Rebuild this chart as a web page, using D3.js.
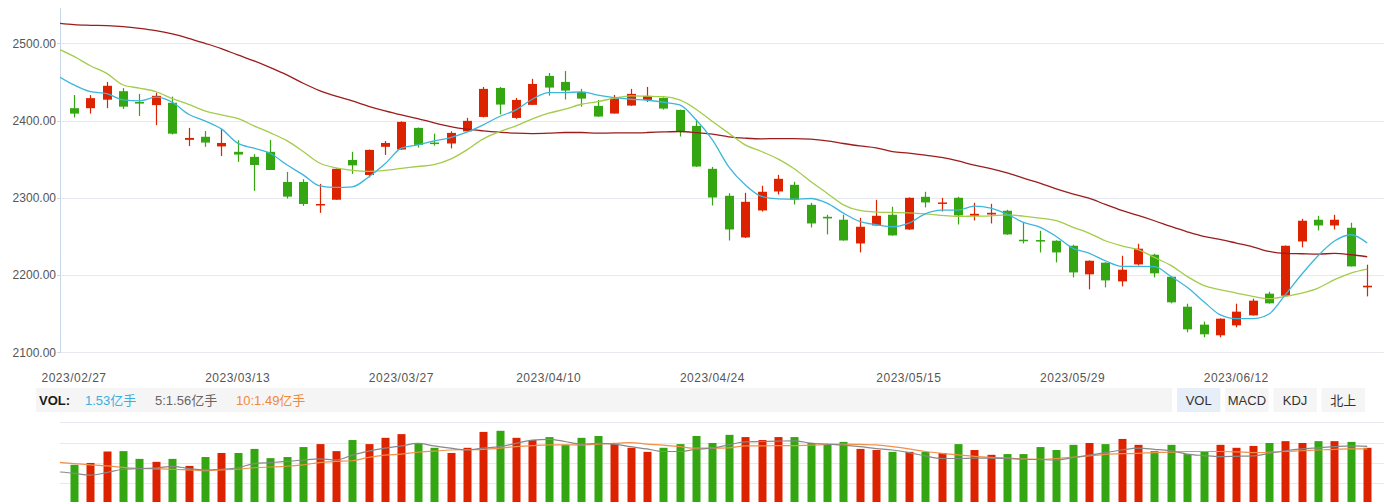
<!DOCTYPE html>
<html><head><meta charset="utf-8">
<script src="https://cdn.jsdelivr.net/npm/d3@7"></script>
<style>html,body{margin:0;padding:0;background:#fff;overflow:hidden}</style>
</head><body><svg id="c" width="1384" height="502"></svg>
<script>
const dates = ["2023/02/27","2023/02/28","2023/03/01","2023/03/02","2023/03/03",
"2023/03/06","2023/03/07","2023/03/08","2023/03/09","2023/03/10",
"2023/03/13","2023/03/14","2023/03/15","2023/03/16","2023/03/17",
"2023/03/20","2023/03/21","2023/03/22","2023/03/23","2023/03/24",
"2023/03/27","2023/03/28","2023/03/29","2023/03/30","2023/03/31",
"2023/04/03","2023/04/04","2023/04/06","2023/04/07",
"2023/04/10","2023/04/11","2023/04/12","2023/04/13","2023/04/14",
"2023/04/17","2023/04/18","2023/04/19","2023/04/20","2023/04/21",
"2023/04/24","2023/04/25","2023/04/26","2023/04/27","2023/04/28",
"2023/05/04","2023/05/05",
"2023/05/08","2023/05/09","2023/05/10","2023/05/11","2023/05/12",
"2023/05/15","2023/05/16","2023/05/17","2023/05/18","2023/05/19",
"2023/05/22","2023/05/23","2023/05/24","2023/05/25","2023/05/26",
"2023/05/29","2023/05/30","2023/05/31","2023/06/01","2023/06/02",
"2023/06/05","2023/06/06","2023/06/07","2023/06/08","2023/06/09",
"2023/06/12","2023/06/13","2023/06/14","2023/06/15","2023/06/16",
"2023/06/19","2023/06/20","2023/06/21","2023/06/26"];

const open = [2416,2416,2427,2438,2424,2420,2423,2375,2379,2366.5,
2359.5,2353,2359.5,2320.5,2320.5,2291.5,2297.5,2349,2329.5,2366,
2362.5,2390.5,2371.5,2370.3,2386,2404.7,2442.2,2403.4,2420.3,2457.8,
2450,2437.1,2419,2409.1,2419.4,2426.7,2429.3,2413.8,2393.1,2337.5,
2302.6,2248.7,2283.6,2308.2,2316.8,2290.9,2275.4,2271.6,2240.9,2264.2,
2278,2259,2301.3,2292.7,2300,2276.7,2278.4,2283.2,2245.7,2245.3,
2244.4,2237.9,2200.9,2216,2191.8,2213.8,2226.3,2197.8,2159,2135.8,
2122,2134.9,2147.8,2175.9,2173.3,2243.5,2271.6,2264.2,2261.2,2184.1];
const close = [2409,2429,2445,2418,2422,2432,2383,2377.5,2371.5,2371,
2356,2342.5,2336,2301.5,2292,2292,2337.5,2342,2362,2371,
2398.3,2368.5,2370.3,2384,2399.6,2441,2420.7,2426.7,2447.4,2442.7,
2438.8,2428.4,2405.2,2428.4,2434.5,2431.9,2415.5,2385.8,2340.5,2300.4,
2259,2294.8,2307.8,2324.6,2297.4,2266.8,2273.3,2244.8,2262.5,2276.7,
2251.3,2300,2294,2294,2277.2,2279.3,2280.6,2252.6,2244.4,2243.5,
2229.3,2203.4,2218.5,2193.1,2206.9,2234.1,2202.2,2164.7,2129.7,2123.3,
2143.5,2152.6,2166.8,2163.4,2237.9,2270.3,2264.2,2271.6,2211.2,2186.2];
const high = [2433,2433,2450,2442,2434.5,2436,2431,2390.5,2386.5,2389,
2374.5,2356.5,2375,2333.5,2324,2318,2338,2359.5,2362.5,2373.5,
2399,2391,2383,2386,2403.5,2443.5,2443.5,2429.3,2454,2461.6,
2464.2,2441,2426.7,2433.2,2441,2443.5,2430,2414,2401,2340,
2306,2306.5,2315.5,2329.7,2320.7,2293.5,2278,2278,2274.1,2297.4,
2288.4,2300.5,2307.8,2300,2301.3,2293.5,2292.2,2284.5,2268.1,2257.3,
2245,2239.2,2219,2216.5,2225,2240.5,2227.6,2198,2162.9,2139.7,
2144,2162.9,2169.4,2178.4,2238.2,2272.8,2276.7,2278,2267.7,2213.4];
const low = [2404,2409,2416,2415,2406,2394,2382,2367,2366,2354,
2346.5,2309,2336,2299,2289.5,2280.5,2297.5,2331,2326.5,2355.5,
2362,2365,2367.5,2364,2385.5,2404,2408,2402.2,2420,2432.3,
2427.2,2418,2405,2409,2419,2424,2414.2,2379.3,2340,2290,
2244.8,2248,2282.3,2304.3,2291.4,2261.6,2252.6,2244.5,2229.3,2264,
2251,2258.5,2287.5,2282.3,2265.5,2270.7,2266.8,2252,2240.9,2229.3,
2216.4,2197,2181.5,2184,2185.3,2212.5,2197,2163.4,2125.9,2119.4,
2119.4,2132.3,2147.5,2163,2173,2235.8,2257.8,2259,2211,2172.4];
// volume, 亿手
const volume = [1.05,1.10,1.41,1.42,1.21,1.13,1.21,1.02,1.26,1.37,
1.37,1.48,1.23,1.26,1.53,1.61,1.42,1.72,1.61,1.78,
1.88,1.64,1.51,1.37,1.51,1.94,1.97,1.78,1.72,1.80,
1.59,1.78,1.83,1.64,1.51,1.40,1.51,1.61,1.83,1.64,
1.86,1.80,1.72,1.80,1.80,1.64,1.61,1.67,1.48,1.45,
1.40,1.40,1.40,1.37,1.61,1.45,1.32,1.34,1.34,1.53,
1.45,1.59,1.64,1.61,1.75,1.59,1.42,1.59,1.34,1.40,
1.59,1.51,1.56,1.64,1.69,1.64,1.69,1.69,1.67,1.51];

// moving-average lines start one trading day earlier (partly hidden at left)
const lineDates = ["2023/02/24"].concat(dates);
const ma5 = [2458,2446.1,2437.5,2434.9,2426.7,2425.4,2430.2,2423.7,2408.2,2399.6,2389.2,
2370.7,2364.2,2357.3,2342.7,2329.7,2315.5,2313.4,2314.2,2327,2344,
2364.2,2368.5,2373.7,2378,2384.9,2394.4,2405.2,2413.8,2427.6,2436.2,
2436.2,2437.1,2432.8,2429.7,2427.6,2426.3,2423.7,2420.3,2401,2375,
2340,2316.8,2301.7,2298.7,2298.3,2299.1,2293.1,2280.2,2269.4,2265.1,
2262.5,2267.2,2279.3,2284,2284,2289.2,2286.6,2278.9,2268.1,2262.1,
2250,2234.9,2228.4,2218.5,2211.2,2211.2,2210.8,2198.3,2184.1,2165.9,
2148.7,2143.5,2143.5,2149.6,2174.6,2201,2225,2244,2252.2,2241.4];
const ma10 = [2493,2483,2471,2461,2446,2442,2437.5,2428.5,2421,2412.5,2407.3,
2402.7,2393,2384,2374,2360,2345,2338.7,2335.5,2334.3,2335.5,
2338,2340.5,2343,2350,2362.1,2376.3,2385.8,2393.1,2402.2,2409.5,
2414.7,2421.1,2424.6,2428.9,2431.9,2431.5,2431,2426.7,2414.7,2398.7,
2383.6,2368.5,2359.9,2350.4,2337.5,2321.1,2306,2290.9,2283.6,2281.5,
2281,2280.6,2279.3,2277.2,2275.9,2276.3,2276.7,2278,2276.3,2273.7,
2270.3,2262.1,2254.3,2244.4,2237.9,2232.8,2222.8,2212.5,2198.3,2186.6,
2181,2176.7,2172.4,2169.4,2172.4,2176.7,2183.2,2194,2202.6,2207.8];
const ma30 = [2526,2524.1,2523.3,2522.8,2521.6,2519.4,2516.4,2512.1,2506.5,2500,2493.1,
2484.9,2477.2,2468.5,2459.1,2448.3,2438.8,2431.5,2425.4,2418.5,2412.5,
2407.3,2402.6,2397,2392.2,2388.8,2386.6,2384.9,2383.6,2383.2,2383.6,
2384.5,2384.5,2383.6,2384.1,2384.1,2384.5,2385.3,2385.8,2384.5,2382.3,
2378.9,2377.2,2376.3,2376.7,2376.7,2375.9,2373.7,2370.3,2367.2,2364.7,
2359.9,2357.8,2355.2,2352.2,2347.8,2342.2,2337.9,2332.3,2325.4,2318.9,
2311.6,2305.2,2299.6,2291.4,2283.6,2277.2,2270.3,2262.9,2256,2250,
2246.1,2241.4,2236.6,2230.6,2228,2227.6,2227.2,2228,2226.3,2223.7];
const volMa5 = [0.86,0.82,0.77,0.84,0.93,0.95,0.96,1.01,0.95,0.91,0.93,
0.97,1.08,1.11,1.14,1.18,1.21,1.18,1.31,1.42,1.50,
1.56,1.63,1.56,1.50,1.45,1.50,1.54,1.63,1.72,1.74,
1.68,1.61,1.63,1.61,1.54,1.48,1.41,1.41,1.47,1.50,
1.59,1.67,1.68,1.69,1.70,1.64,1.61,1.58,1.54,1.49,
1.45,1.38,1.29,1.22,1.22,1.23,1.23,1.22,1.20,1.19,
1.18,1.24,1.31,1.38,1.45,1.50,1.47,1.43,1.34,1.30,
1.27,1.28,1.29,1.36,1.43,1.48,1.51,1.54,1.56,1.55];
const volMa10 = [1.12,1.08,1.05,1.02,0.98,0.95,0.94,0.93,0.91,0.89,0.91,
0.93,0.97,0.99,1.01,1.05,1.11,1.14,1.16,1.25,1.31,
1.34,1.39,1.42,1.45,1.46,1.47,1.50,1.54,1.57,1.59,
1.59,1.59,1.61,1.63,1.65,1.61,1.58,1.54,1.50,1.50,
1.51,1.56,1.56,1.57,1.57,1.58,1.60,1.61,1.60,1.59,
1.54,1.48,1.41,1.36,1.32,1.28,1.25,1.23,1.21,1.20,
1.22,1.25,1.29,1.33,1.35,1.36,1.38,1.39,1.41,1.41,
1.41,1.40,1.38,1.39,1.41,1.43,1.45,1.47,1.48,1.48];

const yTicks = [2100, 2200, 2300, 2400, 2500];
const volGrid = [0.55, 1.1, 1.65, 2.2];
const xLabels = ["2023/02/27","2023/03/13","2023/03/27","2023/04/10","2023/04/24","2023/05/15","2023/05/29","2023/06/12"];
const legendVol = [{t:"1.53亿手", c:"#3aaee0"}, {t:"5:1.56亿手", c:"#666666"}, {t:"10:1.49亿手", c:"#f08a3c"}];
const tabs = ["VOL","MACD","KDJ","北上"];

const RED = "#dd2200", GREEN = "#33a611";
const FONT = "'Liberation Sans', Arial, 'Noto Sans CJK SC', sans-serif";
const svg = d3.select("#c");
const step = 16.37;
const x = d3.scalePoint().domain(lineDates).range([74 - step, 74 + 79 * step]);
const y = d3.scaleLinear().domain([2100, 2500]).range([352.3, 43.3]);
const yv = d3.scaleLinear().domain([0, 2.2]).range([503.6, 422.3]);

const defs = svg.append("defs");
defs.append("clipPath").attr("id","cm").append("rect").attr("x",60).attr("y",0).attr("width",1324).attr("height",356);
defs.append("clipPath").attr("id","cv").append("rect").attr("x",60).attr("y",415).attr("width",1324).attr("height",90);

// main grid
svg.append("g").selectAll("line").data(yTicks).join("line")
  .attr("x1",60).attr("x2",1384).attr("y1",d=>Math.round(y(d))+0.5).attr("y2",d=>Math.round(y(d))+0.5)
  .attr("stroke","#e6e9f0").attr("stroke-width",1);
// y axis line
svg.append("line").attr("x1",60.5).attr("x2",60.5).attr("y1",8).attr("y2",353).attr("stroke","#c9d7ea");
svg.append("g").selectAll("line").data(yTicks).join("line")
  .attr("x1",57).attr("x2",60).attr("y1",d=>Math.round(y(d))+0.5).attr("y2",d=>Math.round(y(d))+0.5)
  .attr("stroke","#c9d7ea");
svg.append("g").selectAll("text").data(yTicks).join("text")
  .attr("x",56).attr("y",d=>y(d)).attr("dy","0.35em").attr("text-anchor","end")
  .attr("font-family",FONT).attr("font-size",12).attr("fill","#555")
  .text(d=>d3.format(".2f")(d));
// x labels
svg.append("g").selectAll("text").data(xLabels).join("text")
  .attr("x",d=>x(d)).attr("y",382).attr("text-anchor","middle")
  .attr("font-family",FONT).attr("font-size",12).attr("letter-spacing","0.5px").attr("fill","#555")
  .text(d=>d);

// candles
const idx = d3.range(dates.length);
const isUp = i => close[i] >= open[i];
const cg = svg.append("g").attr("clip-path","url(#cm)");
cg.selectAll("line.w").data(idx).join("line").attr("class","w")
  .attr("x1",i=>Math.round(x(dates[i]))+0.5).attr("x2",i=>Math.round(x(dates[i]))+0.5)
  .attr("y1",i=>y(high[i])).attr("y2",i=>y(low[i]))
  .attr("stroke",i=>isUp(i)?RED:GREEN).attr("stroke-width",1.2);
const bw = 9;
cg.selectAll("rect.b").data(idx).join("rect").attr("class","b")
  .attr("x",i=>Math.round(x(dates[i]))+0.5-bw/2)
  .attr("y",i=>y(Math.max(open[i],close[i])))
  .attr("width",bw)
  .attr("height",i=>Math.max(1.5, Math.abs(y(open[i])-y(close[i]))))
  .attr("fill",i=>isUp(i)?RED:GREEN);

// MA lines
const lineGen = arr => d3.line().x((d,i)=>x(lineDates[i])).y(d=>y(d)).curve(d3.curveMonotoneX)(arr);
const lg = svg.append("g").attr("clip-path","url(#cm)").attr("fill","none");
[[ma30,"#9b1c1c"],[ma10,"#a3cc4a"],[ma5,"#3db6dc"]].forEach(([arr,c])=>{
  lg.append("path").attr("d",lineGen(arr)).attr("stroke",c).attr("stroke-width",1.3);
});

// info bar
svg.append("rect").attr("x",36).attr("y",388).attr("width",1136).attr("height",24).attr("fill","#f5f5f5");
svg.append("text").attr("x",39).attr("y",405).attr("font-family",FONT).attr("font-size",13)
  .attr("font-weight","bold").attr("fill","#1a1a1a").text("VOL:");
const legX = [85, 155, 236];
svg.append("g").selectAll("text").data(legendVol).join("text")
  .attr("x",(d,i)=>legX[i]).attr("y",405).attr("font-family",FONT).attr("font-size",13)
  .attr("fill",d=>d.c).text(d=>d.t);
const tabX = d3.scaleBand().domain(tabs).range([1177, 1365]).paddingInner(0.1);
const tg = svg.append("g").selectAll("g").data(tabs).join("g");
tg.append("rect").attr("x",d=>tabX(d)).attr("y",388).attr("width",tabX.bandwidth()).attr("height",24)
  .attr("fill",(d,i)=>i===0?"#e6eef8":"#f5f5f5");
tg.append("text").attr("x",d=>tabX(d)+tabX.bandwidth()/2).attr("y",405).attr("text-anchor","middle")
  .attr("font-family",FONT).attr("font-size",13).attr("fill","#333").text(d=>d);

// volume grid
svg.append("g").selectAll("line").data(volGrid).join("line")
  .attr("x1",60).attr("x2",1384).attr("y1",d=>Math.round(yv(d))+0.5).attr("y2",d=>Math.round(yv(d))+0.5)
  .attr("stroke","#e6e9f0");
// volume bars
const vg = svg.append("g").attr("clip-path","url(#cv)");
vg.selectAll("rect").data(idx).join("rect")
  .attr("x",i=>Math.round(x(dates[i]))+0.5-4).attr("width",8)
  .attr("y",i=>yv(volume[i])).attr("height",i=>yv(0)-yv(volume[i]))
  .attr("fill",i=>isUp(i)?RED:GREEN);
const vLine = arr => d3.line().x((d,i)=>x(lineDates[i])).y(d=>yv(d)).curve(d3.curveMonotoneX)(arr);
vg.append("path").attr("d",vLine(volMa10)).attr("fill","none").attr("stroke","#f0904a").attr("stroke-width",1.2);
vg.append("path").attr("d",vLine(volMa5)).attr("fill","none").attr("stroke","#888").attr("stroke-width",1.2);
</script></body></html>
